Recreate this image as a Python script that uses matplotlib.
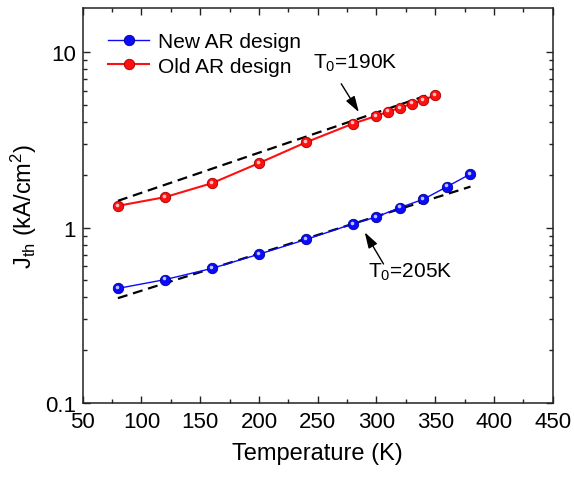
import numpy as np
import matplotlib
matplotlib.use("Agg")
import matplotlib.pyplot as plt
from matplotlib.ticker import MultipleLocator, LogLocator, FixedLocator, NullFormatter
from matplotlib.transforms import offset_copy

plt.rcParams['font.family'] = ['Liberation Sans', 'DejaVu Sans']
plt.rcParams['mathtext.fontset'] = 'custom'
plt.rcParams['mathtext.rm'] = 'Liberation Sans'
plt.rcParams['mathtext.it'] = 'Liberation Sans:italic'

# threshold current density vs temperature
temp_new = [80, 120, 160, 200, 240, 280, 300, 320, 340, 360, 380]
jth_new = [0.45, 0.505, 0.585, 0.705, 0.855, 1.05, 1.15, 1.30, 1.45, 1.71, 2.02]
temp_old = [80, 120, 160, 200, 240, 280, 300, 310, 320, 330, 340, 350]
jth_old = [1.33, 1.49, 1.79, 2.33, 3.06, 3.91, 4.33, 4.58, 4.81, 5.09, 5.35, 5.67]

# exponential fits J = J(80K) * exp((T - 80) / T0)
T0_new, j80_new, fit_range_new = 205, 0.396, (80, 380)
T0_old, j80_old, fit_range_old = 190, 1.42, (80, 350)

fig = plt.figure(figsize=(5.74, 4.81), dpi=100)
ax = fig.add_axes([0.144, 0.160, 0.819, 0.821])


def ball(x, y, color, edge, label=None, lw=1.0):
    ax.plot(x, y, '-', color=color, lw=lw, marker='o', ms=7.5,
            mfc=color, mec=edge, mew=0.6, label=label, zorder=3)
    hl = offset_copy(ax.transData, fig=fig, x=-1.2, y=1.2, units='dots')
    ax.plot(x, y, 'o', ls='none', ms=2.6, mfc='white', mec='none',
            alpha=0.75, transform=hl, zorder=4)


def fit_line(T0, j80, rng):
    t = np.linspace(rng[0], rng[1], 50)
    ax.plot(t, j80 * np.exp((t - 80) / T0), color='black', lw=1.6,
            dashes=(4.5, 2.6), zorder=2.5)


ball(temp_new, jth_new, '#0a0aff', '#00008a', 'New AR design', lw=1.0)
ball(temp_old, jth_old, '#ff1010', '#a00000', 'Old AR design', lw=1.5)
fit_line(T0_new, j80_new, fit_range_new)
fit_line(T0_old, j80_old, fit_range_old)

arrow = dict(arrowstyle='-|>,head_length=0.8,head_width=0.25', color='black',
             lw=1.0, mutation_scale=12, shrinkA=0, shrinkB=0)
ax.text(246, 8.7, r'T$_\mathregular{0}$=190K', fontsize=15, ha='left',
        va='center')
ax.annotate('', xy=(285, 4.55), xytext=(270, 6.6), arrowprops=arrow)
ax.text(293, 0.56, r'T$_\mathregular{0}$=205K', fontsize=15, ha='left',
        va='center')
ax.annotate('', xy=(290, 0.94), xytext=(306, 0.62), arrowprops=arrow)

ax.set_yscale('log')
ax.set_xlim(50, 450)
ax.set_ylim(0.1, 17.8)
ax.xaxis.set_major_locator(MultipleLocator(50))
ax.xaxis.set_minor_locator(MultipleLocator(25))
ax.yaxis.set_major_locator(FixedLocator([0.1, 1, 10]))
ax.yaxis.set_minor_locator(LogLocator(base=10, subs=np.arange(2, 10)))
ax.yaxis.set_minor_formatter(NullFormatter())
ax.set_yticklabels(['0.1', '1', '10'])

ax.tick_params(which='both', direction='in', top=True, right=True,
               labelsize=16, width=1.0, color='#222222')
ax.tick_params(which='major', length=5)
ax.tick_params(which='minor', length=3)
ax.tick_params(axis='x', pad=6)
ax.tick_params(axis='y', pad=5)
for s in ax.spines.values():
    s.set_linewidth(1.1)
    s.set_color('#222222')

ax.set_xlabel('Temperature (K)', fontsize=17, labelpad=7)
ax.set_ylabel(r'J$_\mathregular{th}$ (kA/cm$^\mathregular{2}$)', fontsize=17,
              labelpad=4)

ax.legend(loc='upper left', frameon=False, fontsize=15, handlelength=2.0,
          handletextpad=0.4, borderaxespad=0.35, labelspacing=0.25,
          bbox_to_anchor=(0.02, 0.978))

fig.savefig('out.png', dpi=100)
